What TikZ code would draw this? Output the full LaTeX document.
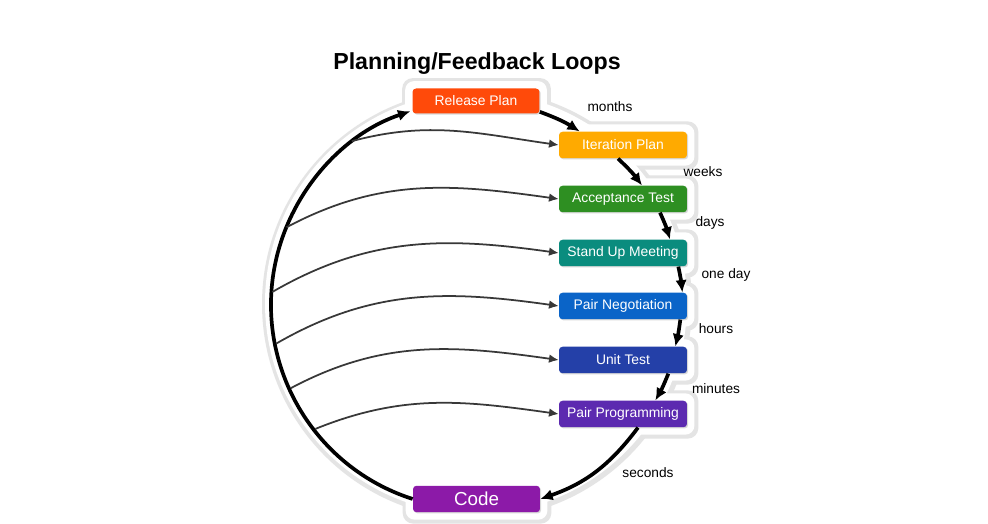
\documentclass[tikz,border=0pt]{standalone}
\usepackage{fontspec}
\setmainfont{Liberation Sans}
\usetikzlibrary{arrows.meta,calc,backgrounds,shadows}
\definecolor{loopRelease}{HTML}{FF4A0A}
\definecolor{loopIteration}{HTML}{FFAA00}
\definecolor{loopAccept}{HTML}{2E8F22}
\definecolor{loopStandup}{HTML}{0A8C7E}
\definecolor{loopNegot}{HTML}{0A64C8}
\definecolor{loopUnit}{HTML}{2440A8}
\definecolor{loopPair}{HTML}{5C2AB0}
\definecolor{loopCode}{HTML}{8C1AA8}
\definecolor{loopHalo}{HTML}{E4E4E4}

\begin{document}
\begin{tikzpicture}[
  x=0.02cm,y=0.02cm,
  stage/.style={rounded corners=2pt,minimum width=2.56cm,minimum height=0.53cm,inner sep=0pt,text=white,font=\fontsize{7.9}{9}\selectfont,drop shadow={opacity=.3,shadow xshift=.7pt,shadow yshift=-.7pt}},
  codebox/.style={stage,minimum width=2.54cm,font=\fontsize{10.7}{12}\selectfont},
  loop/.style={-{Latex[length=7pt,width=6.5pt]},line width=2.1pt,draw=black},
  feed/.style={-{Latex[length=5.5pt,width=5pt]},line width=1pt,draw=black!78},
  tlabel/.style={font=\fontsize{7.8}{9}\selectfont,text=black,inner sep=1pt}
]
\useasboundingbox (0,0) rectangle (988,524);

\node[font=\bfseries\fontsize{13.2}{15}\selectfont] (title) at (477,460) {Planning/Feedback Loops};

\node[stage,fill=loopRelease,minimum width=2.54cm,minimum height=0.5cm] (rp) at (476,423) {Release Plan};
\node[stage,fill=loopIteration] (ip) at (623,379) {Iteration Plan};
\node[stage,fill=loopAccept] (at) at (623,325) {Acceptance Test};
\node[stage,fill=loopStandup] (su) at (623,271) {Stand Up Meeting};
\node[stage,fill=loopNegot] (pn) at (623,218) {Pair Negotiation};
\node[stage,fill=loopUnit] (ut) at (623,164) {Unit Test};
\node[stage,fill=loopPair] (pp) at (623,110) {Pair Programming};
\node[codebox,fill=loopCode] (code) at (476.5,25) {Code};

% white sticker behind the loop
\coordinate (c) at (476,221);
\begin{scope}[on background layer]
  \fill[white] (0,0) rectangle (988,524);
  \fill[loopHalo] ($(c)+(1,-1)$) circle[radius=215];
  \foreach \n in {rp,ip,at,su,pn,ut,pp,code}
    \fill[loopHalo,rounded corners=6pt] ($(\n.south west)+(-10,-11)$) rectangle ($(\n.north east)+(11,10)$);
  \fill[white] (c) circle[radius=211];
  \foreach \n in {rp,ip,at,su,pn,ut,pp,code}
    \fill[white,rounded corners=5pt] ($(\n.south west)+(-7,-7)$) rectangle ($(\n.north east)+(7,7)$);
\end{scope}

% outer loop, clockwise
\draw[loop] (code.west) arc[start angle=252.2,end angle=108.5,radius=204];
\draw[loop] ($(rp.south east)+(0,2)$) to[bend left=6] ($(ip.north west)+(21,0)$);
\draw[loop] ($(ip.south)+(-5,0)$) to[bend left=5] ($(at.north)+(19,0)$);
\draw[loop] ($(at.south)+(37,0)$) to[bend left=4] ($(su.north)+(47,0)$);
\draw[loop] ($(su.south east)+(-9,0)$) to[bend left=3] ($(pn.north east)+(-5,0)$);
\draw[loop] ($(pn.south east)+(-7,0)$) to[bend left=3] ($(ut.north east)+(-12,0)$);
\draw[loop] ($(ut.south east)+(-19,0)$) to[bend left=4] ($(pp.north east)+(-32,0)$);
\draw[loop] ($(pp.south)+(15,0)$) to[bend left=17] (code.east);

\node[tlabel] (lmonths) at (610,417) {months};
\node[tlabel] (lweeks) at (703,352) {weeks};
\node[tlabel] (ldays) at (710,301) {days};
\node[tlabel] (loneday) at (726,249) {one day};
\node[tlabel] (lhours) at (716,195) {hours};
\node[tlabel] (lminutes) at (716,135) {minutes};
\node[tlabel] (lseconds) at (648,51) {seconds};

% feedback into each stage
\coordinate (s1) at ($(c)+(127.5:204)$);
\coordinate (s2) at ($(c)+(158.2:204)$);
\coordinate (s3) at ($(c)+(176.9:204)$);
\coordinate (s4) at ($(c)+(191.5:204)$);
\coordinate (s5) at ($(c)+(204.7:204)$);
\coordinate (s6) at ($(c)+(218.1:204)$);
\draw[feed] (s1) to[out=15,in=172] (ip.west);
\draw[feed] (s2) to[out=28,in=172] (at.west);
\draw[feed] (s3) to[out=30,in=172] (su.west);
\draw[feed] (s4) to[out=30,in=172] (pn.west);
\draw[feed] (s5) to[out=28,in=172] (ut.west);
\draw[feed] (s6) to[out=22,in=172] (pp.west);
\end{tikzpicture}
\end{document}
